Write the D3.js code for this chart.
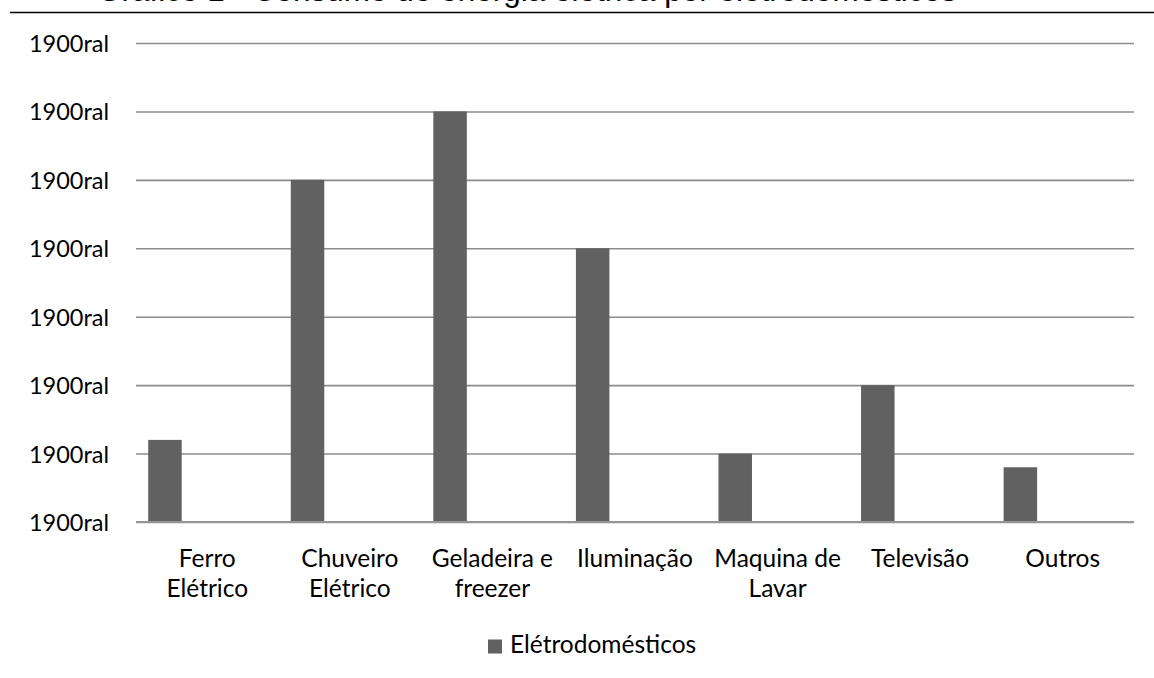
<!DOCTYPE html>
<html>
<head>
<meta charset="utf-8">
<script src="https://cdn.jsdelivr.net/npm/d3@7"></script>
<style>
  html, body { margin: 0; padding: 0; background: #fff; }
  svg { display: block; }
</style>
</head>
<body>
<svg id="chart" width="1154" height="678"></svg>
<script>
// Consumo de energia por eletrodoméstico
const categories = [
  "Ferro\nElétrico",
  "Chuveiro\nElétrico",
  "Geladeira e\nfreezer",
  "Iluminação",
  "Maquina de\nLavar",
  "Televisão",
  "Outros"
];
const seriesName = "Elétrodomésticos";
const seriesValues = [1.2, 5, 6, 4, 1, 2, 0.8];
const yTickValues = [0, 1, 2, 3, 4, 5, 6, 7];
const yTickLabels = ["1900ral", "1900ral", "1900ral", "1900ral", "1900ral", "1900ral", "1900ral", "1900ral"];
const titleText = "Gráfico 1 - Consumo de energia elétrica por eletrodomésticos";

const W = 1154, H = 678;
const plot = { left: 136, right: 1134, top: 43, bottom: 522 };
const labelFont = "Lato, 'Open Sans', sans-serif";
const gridColor = "#8c8c8c";
const barColor = "#616161";

const svg = d3.select("#chart");
svg.append("rect").attr("width", W).attr("height", H).attr("fill", "#fff");

// Title (runs off the top of the page) and its rule
svg.append("text")
  .attr("x", 97).attr("y", 0.5)
  .attr("font-family", "'Liberation Sans', Arial, sans-serif")
  .attr("font-size", 31.5)
  .attr("fill", "#000")
  .text(titleText);
svg.append("line")
  .attr("x1", 10).attr("x2", W)
  .attr("y1", 12.5).attr("y2", 12.5)
  .attr("stroke", "#000").attr("stroke-width", 1.4);

const y = d3.scaleLinear().domain([0, 7]).range([plot.bottom, plot.top]);
const x = d3.scaleBand().domain(categories).range([plot.left, plot.right]).padding(0);

// Horizontal gridlines with the value axis labels
const yAxis = d3.axisLeft(y)
  .tickValues(yTickValues)
  .tickSize(-(plot.right - plot.left))
  .tickPadding(27)
  .tickFormat((d, i) => yTickLabels[i]);

const gy = svg.append("g")
  .attr("transform", `translate(${plot.left},0)`)
  .call(yAxis);
gy.select(".domain").remove();
gy.selectAll(".tick line")
  .attr("stroke", gridColor)
  .attr("stroke-width", 1.6);
gy.selectAll(".tick text")
  .attr("font-family", labelFont)
  .attr("font-size", 23.5)
  .attr("fill", "#000")
  .attr("dy", "0.36em");

// Bars
const bw = x.bandwidth();
svg.append("g")
  .selectAll("rect")
  .data(categories.map((c, i) => ({ c, v: seriesValues[i] })))
  .join("rect")
  .attr("x", d => x(d.c) + bw * 0.0855)
  .attr("width", bw * 0.235)
  .attr("y", d => y(d.v))
  .attr("height", d => y(0) - y(d.v))
  .attr("fill", barColor);

// Baseline over the bar feet
svg.append("line")
  .attr("x1", plot.left).attr("x2", plot.right)
  .attr("y1", y(0)).attr("y2", y(0))
  .attr("stroke", "#969696").attr("stroke-width", 1.8);

// Category labels
const cat = svg.append("g")
  .selectAll("text")
  .data(categories)
  .join("text")
  .attr("x", d => x(d) + bw / 2)
  .attr("y", 566.5)
  .attr("text-anchor", "middle")
  .attr("font-family", labelFont)
  .attr("font-size", 24.5)
  .attr("fill", "#000");
cat.selectAll("tspan")
  .data(d => d.split("\n"))
  .join("tspan")
  .attr("x", function () { return d3.select(this.parentNode).attr("x"); })
  .attr("dy", (d, i) => i === 0 ? 0 : 30)
  .text(d => d);

// Legend
const lg = svg.append("g");
lg.append("rect")
  .attr("x", 488).attr("y", 639.5)
  .attr("width", 14).attr("height", 14)
  .attr("fill", barColor);
lg.append("text")
  .attr("x", 510).attr("y", 653)
  .attr("font-family", labelFont)
  .attr("font-size", 24.5)
  .attr("fill", "#000")
  .text(seriesName);
</script>
</body>
</html>
